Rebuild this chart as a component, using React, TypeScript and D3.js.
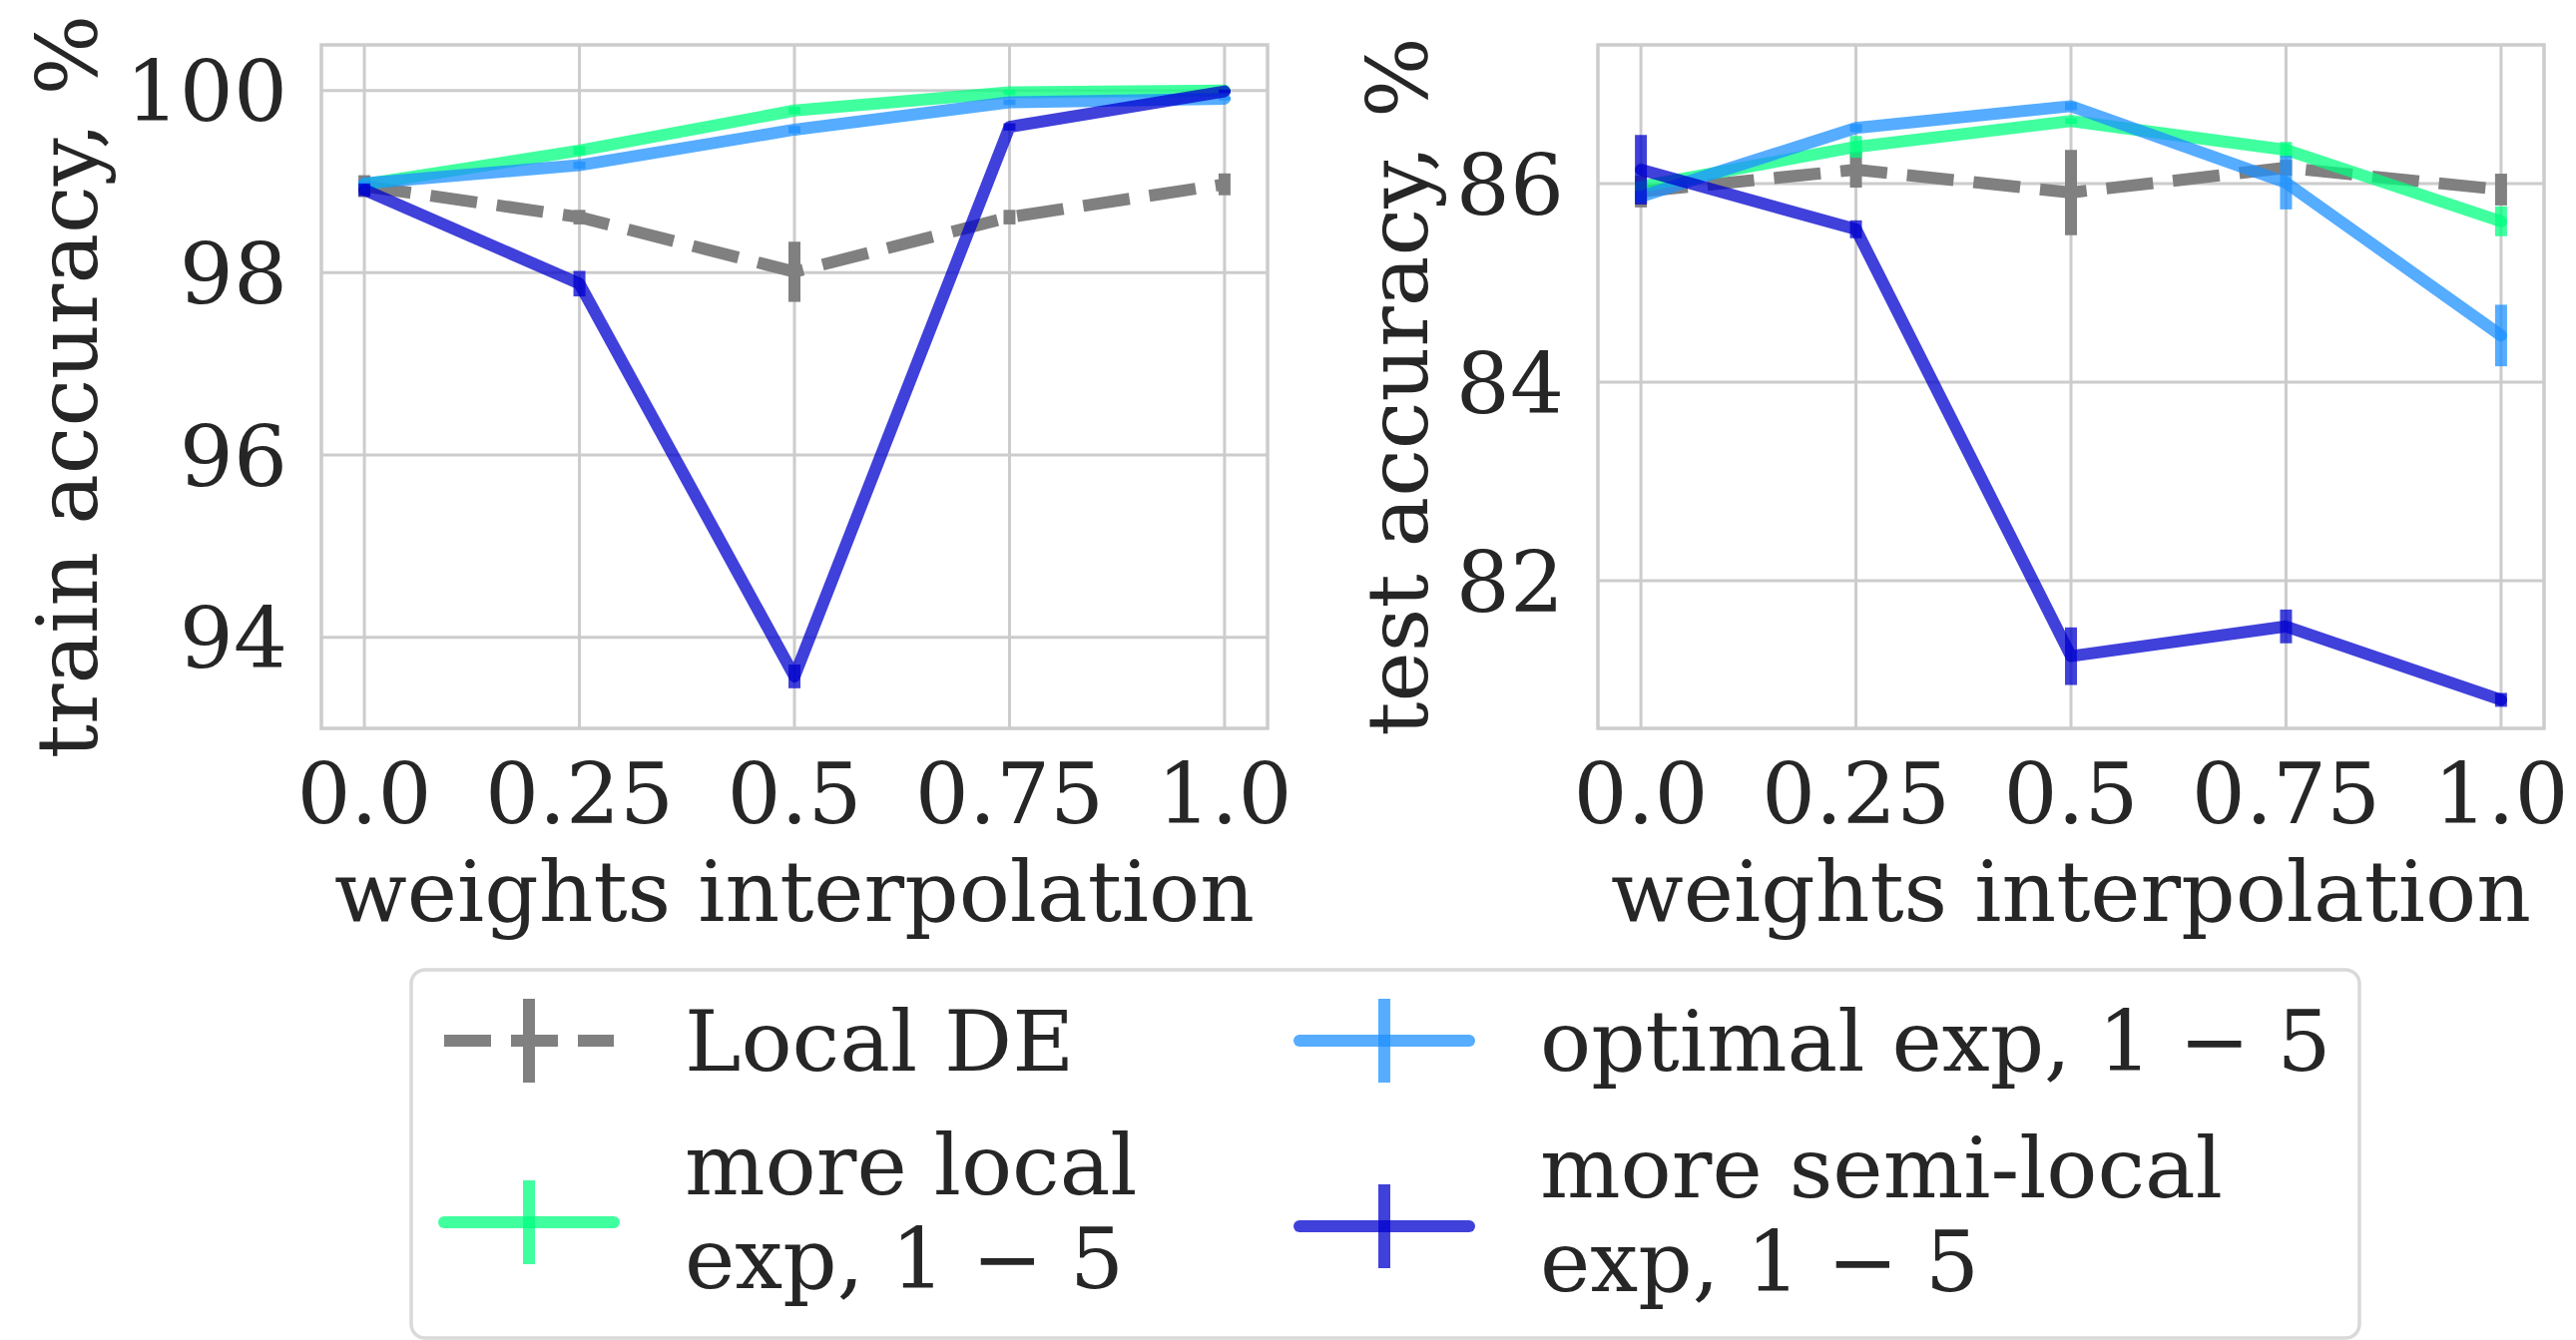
import React from 'react';
import * as d3 from 'd3';

// ---------- data ----------
const xVals = [0, 0.25, 0.5, 0.75, 1.0];
const xTickLabels = ['0.0', '0.25', '0.5', '0.75', '1.0'];
const trainTicks = [94, 96, 98, 100];
const testTicks = [82, 84, 86];

const localDETrain = [98.95, 98.61, 98.01, 98.61, 98.97];
const localDETrainErr = [0.12, 0.08, 0.33, 0.08, 0.12];
const moreLocalTrain = [98.97, 99.34, 99.78, 99.98, 100.0];
const moreLocalTrainErr = [0.03, 0.05, 0.04, 0.03, 0.01];
const optimalTrain = [98.98, 99.18, 99.57, 99.87, 99.91];
const optimalTrainErr = [0.03, 0.04, 0.04, 0.03, 0.02];
const semiLocalTrain = [98.91, 97.88, 93.57, 99.6, 99.99];
const semiLocalTrainErr = [0.07, 0.14, 0.13, 0.04, 0.02];

const localDETest = [85.92, 86.14, 85.91, 86.16, 85.94];
const localDETestErr = [0.16, 0.18, 0.43, 0.08, 0.16];
const moreLocalTest = [85.97, 86.37, 86.63, 86.34, 85.62];
const moreLocalTestErr = [0.05, 0.11, 0.03, 0.08, 0.15];
const optimalTest = [85.87, 86.56, 86.78, 86.01, 84.47];
const optimalTestErr = [0.06, 0.04, 0.04, 0.27, 0.31];
const semiLocalTest = [86.14, 85.54, 81.24, 81.54, 80.80];
const semiLocalTestErr = [0.35, 0.09, 0.29, 0.17, 0.07];

const seriesLabels = [
  ['Local DE'],
  ['more local', 'exp, 1 \u2212 5'],
  ['optimal exp, 1 \u2212 5'],
  ['more semi-local', 'exp, 1 \u2212 5'],
];
const seriesColors = ['#808080', '#00ff7f', '#1e90ff', '#0000cd'];
const seriesAlpha = [1, 0.75, 0.75, 0.75];
const seriesDashed = [true, false, false, false];

// ---------- layout ----------
const W = 2581;
const H = 1343;
const FONT = '"DejaVu Serif", serif';
const FS = 85;
const TXT = '#262626';
const GRID = '#cccccc';
const LW = 12;
const DASH = '47 20';

const panels = [
  {
    x0: 322, x1: 1270, y0: 45, y1: 730,
    yDomain: [93.0, 100.5], ticks: trainTicks,
    ylabel: 'train accuracy, %', ylabelX: 97, tickRight: 288,
    series: [
      [localDETrain, localDETrainErr],
      [moreLocalTrain, moreLocalTrainErr],
      [optimalTrain, optimalTrainErr],
      [semiLocalTrain, semiLocalTrainErr],
    ],
  },
  {
    x0: 1601, x1: 2549, y0: 45, y1: 730,
    yDomain: [80.513, 87.397], ticks: testTicks,
    ylabel: 'test accuracy, %', ylabelX: 1430, tickRight: 1567,
    series: [
      [localDETest, localDETestErr],
      [moreLocalTest, moreLocalTestErr],
      [optimalTest, optimalTestErr],
      [semiLocalTest, semiLocalTestErr],
    ],
  },
];

// legend layout: order column-wise
const legendBox = { x0: 412, y0: 972, x1: 2364, y1: 1341 };
const legendPos = [
  { hx: 445, cy: 1043, tx: 686, baselines: [1073] },
  { hx: 445, cy: 1225, tx: 686, baselines: [1197, 1291] },
  { hx: 1302, cy: 1043, tx: 1543, baselines: [1073] },
  { hx: 1302, cy: 1229, tx: 1543, baselines: [1200, 1294] },
];
const handleLen = 170;
const handleBar = 42;

function Panel({ p }: { p: any }) {
  const xs = d3.scaleLinear().domain([-0.05, 1.05]).range([p.x0, p.x1]);
  const ys = d3.scaleLinear().domain(p.yDomain).range([p.y1, p.y0]);
  const line = d3
    .line<number>()
    .x((_, i) => xs(xVals[i]))
    .y((d) => ys(d));
  return (
    <g>
      {/* grid */}
      {xVals.map((v, i) => (
        <line key={'gx' + i} x1={xs(v)} x2={xs(v)} y1={p.y0} y2={p.y1} stroke={GRID} strokeWidth={3} />
      ))}
      {p.ticks.map((t: number) => (
        <line key={'gy' + t} x1={p.x0} x2={p.x1} y1={ys(t)} y2={ys(t)} stroke={GRID} strokeWidth={3} />
      ))}
      {/* series */}
      {p.series.map((s: number[][], si: number) => (
        <g key={'s' + si}>
          <path
            d={line(s[0]) || ''}
            fill="none"
            stroke={seriesColors[si]}
            strokeOpacity={seriesAlpha[si]}
            strokeWidth={LW}
            strokeDasharray={seriesDashed[si] ? DASH : undefined}
            strokeLinecap={seriesDashed[si] ? 'butt' : 'round'}
            strokeLinejoin="round"
          />
          {s[0].map((v, i) => (
            <line
              key={'e' + i}
              x1={xs(xVals[i])}
              x2={xs(xVals[i])}
              y1={ys(v - s[1][i])}
              y2={ys(v + s[1][i])}
              stroke={seriesColors[si]}
              strokeOpacity={seriesAlpha[si]}
              strokeWidth={LW}
            />
          ))}
        </g>
      ))}
      {/* frame */}
      <rect x={p.x0} y={p.y0} width={p.x1 - p.x0} height={p.y1 - p.y0} fill="none" stroke={GRID} strokeWidth={3.5} />
      {/* x tick labels */}
      {xVals.map((v, i) => (
        <text key={'xt' + i} x={xs(v)} y={825} textAnchor="middle" fontFamily={FONT} fontSize={FS} fill={TXT}>
          {xTickLabels[i]}
        </text>
      ))}
      {/* y tick labels */}
      {p.ticks.map((t: number) => (
        <text key={'yt' + t} x={p.tickRight} y={ys(t)} dy="0.36em" textAnchor="end" fontFamily={FONT} fontSize={FS} fill={TXT}>
          {t}
        </text>
      ))}
      {/* axis labels */}
      <text x={(p.x0 + p.x1) / 2} y={923} textAnchor="middle" fontFamily={FONT} fontSize={FS} fill={TXT}>
        weights interpolation
      </text>
      <text
        transform={`translate(${p.ylabelX},${(p.y0 + p.y1) / 2}) rotate(-90)`}
        textAnchor="middle"
        fontFamily={FONT}
        fontSize={FS}
        fill={TXT}
      >
        {p.ylabel}
      </text>
    </g>
  );
}

export default function App() {
  return (
    <svg
      width={W}
      height={H}
      viewBox={`0 0 ${W} ${H}`}
      style={{ position: 'absolute', left: 0, top: 0, background: '#ffffff' }}
    >
      <rect x={0} y={0} width={W} height={H} fill="#ffffff" />
      {panels.map((p, i) => (
        <Panel key={i} p={p} />
      ))}
      {/* legend */}
      <rect
        x={legendBox.x0}
        y={legendBox.y0}
        width={legendBox.x1 - legendBox.x0}
        height={legendBox.y1 - legendBox.y0}
        rx={14}
        ry={14}
        fill="#ffffff"
        stroke="#d9d9d9"
        strokeWidth={3.5}
      />
      {legendPos.map((lp, i) => (
        <g key={'lg' + i}>
          <line
            x1={lp.hx}
            x2={lp.hx + handleLen}
            y1={lp.cy}
            y2={lp.cy}
            stroke={seriesColors[i]}
            strokeOpacity={seriesAlpha[i]}
            strokeWidth={LW}
            strokeDasharray={seriesDashed[i] ? DASH : undefined}
            strokeLinecap={seriesDashed[i] ? 'butt' : 'round'}
          />
          <line
            x1={lp.hx + handleLen / 2}
            x2={lp.hx + handleLen / 2}
            y1={lp.cy - handleBar}
            y2={lp.cy + handleBar}
            stroke={seriesColors[i]}
            strokeOpacity={seriesAlpha[i]}
            strokeWidth={LW}
          />
          {seriesLabels[i].map((t, j) => (
            <text key={j} x={lp.tx} y={lp.baselines[j]} fontFamily={FONT} fontSize={FS} fill={TXT}>
              {t}
            </text>
          ))}
        </g>
      ))}
    </svg>
  );
}
